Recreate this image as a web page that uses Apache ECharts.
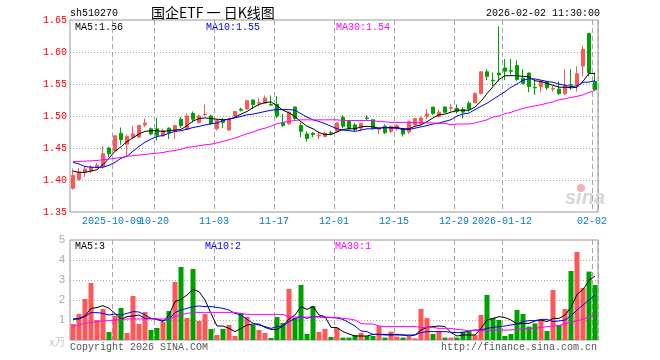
<!DOCTYPE html>
<html><head><meta charset="utf-8">
<script src="https://cdn.jsdelivr.net/npm/echarts@6/dist/echarts.min.js"></script>
<style>html,body{margin:0;padding:0;background:#fff}#c{width:660px;height:360px}</style>
</head><body><div id="c"></div>
<script>
const dates = [
'2025-09-22','2025-09-23','2025-09-24','2025-09-25','2025-09-26','2025-09-29','2025-09-30',
'2025-10-09','2025-10-10','2025-10-13','2025-10-14','2025-10-15','2025-10-16','2025-10-17',
'2025-10-20','2025-10-21','2025-10-22','2025-10-23','2025-10-24','2025-10-27','2025-10-28','2025-10-29','2025-10-30','2025-10-31',
'2025-11-03','2025-11-04','2025-11-05','2025-11-06','2025-11-07','2025-11-10','2025-11-11','2025-11-12','2025-11-13','2025-11-14',
'2025-11-17','2025-11-18','2025-11-19','2025-11-20','2025-11-21','2025-11-24','2025-11-25','2025-11-26','2025-11-27','2025-11-28',
'2025-12-01','2025-12-02','2025-12-03','2025-12-04','2025-12-05','2025-12-08','2025-12-09','2025-12-10','2025-12-11','2025-12-12',
'2025-12-15','2025-12-16','2025-12-17','2025-12-18','2025-12-19','2025-12-22','2025-12-23','2025-12-24','2025-12-25','2025-12-26',
'2025-12-29','2025-12-30','2025-12-31',
'2026-01-05','2026-01-06','2026-01-07','2026-01-08','2026-01-09','2026-01-12','2026-01-13','2026-01-14','2026-01-15','2026-01-16',
'2026-01-19','2026-01-20','2026-01-21','2026-01-22','2026-01-23','2026-01-26','2026-01-27','2026-01-28','2026-01-29','2026-01-30',
'2026-02-02'];

const openP = [1.387,1.401,1.412,1.414,1.420,1.421,1.450,1.446,1.473,1.456,1.467,1.467,1.486,1.480,1.480,1.469,1.481,1.476,1.495,1.479,
1.504,1.490,1.502,1.500,1.480,1.494,1.478,1.500,1.5105,1.511,1.525,1.520,1.520,1.518,1.518,1.490,1.488,1.514,1.485,1.472,
1.473,1.469,1.468,1.474,1.476,1.498,1.492,1.486,1.481,1.497,1.494,1.479,1.484,1.476,1.480,1.480,1.475,1.486,1.488,1.4995,
1.514,1.499,1.514,1.512,1.512,1.510,1.520,1.521,1.535,1.569,1.556,1.567,1.575,1.571,1.579,1.559,1.567,1.545,1.546,1.553,
1.542,1.542,1.535,1.549,1.549,1.578,1.629,1.554];
const closeP = [1.407,1.412,1.417,1.420,1.423,1.441,1.441,1.469,1.463,1.468,1.472,1.485,1.489,1.472,1.470,1.477,1.474,1.485,1.485,1.500,
1.495,1.500,1.503,1.488,1.493,1.490,1.495,1.507,1.509,1.524,1.518,1.521,1.528,1.517,1.500,1.485,1.506,1.496,1.476,1.465,
1.471,1.470,1.473,1.473,1.489,1.484,1.480,1.479,1.488,1.496,1.481,1.480,1.474,1.484,1.485,1.472,1.491,1.496,1.497,1.503,
1.504,1.506,1.506,1.513,1.507,1.506,1.511,1.535,1.569,1.562,1.555,1.564,1.570,1.570,1.557,1.551,1.546,1.544,1.554,1.544,
1.543,1.535,1.547,1.548,1.566,1.604,1.568,1.541];
const lowP = [1.385,1.399,1.405,1.411,1.418,1.418,1.436,1.445,1.455,1.436,1.465,1.466,1.483,1.470,1.462,1.467,1.464,1.464,1.481,1.478,
1.490,1.488,1.500,1.486,1.477,1.481,1.477,1.498,1.507,1.510,1.511,1.515,1.519,1.516,1.497,1.483,1.486,1.493,1.467,1.460,
1.467,1.464,1.467,1.470,1.475,1.481,1.479,1.476,1.476,1.493,1.479,1.472,1.472,1.473,1.477,1.468,1.472,1.485,1.486,1.495,
1.502,1.498,1.505,1.507,1.504,1.496,1.507,1.520,1.534,1.556,1.546,1.554,1.556,1.565,1.555,1.549,1.537,1.533,1.537,1.541,
1.538,1.533,1.533,1.541,1.538,1.562,1.562,1.540];
const highP = [1.418,1.419,1.421,1.423,1.427,1.453,1.452,1.470,1.482,1.471,1.484,1.486,1.496,1.482,1.497,1.480,1.482,1.486,1.498,1.504,
1.507,1.502,1.518,1.502,1.495,1.497,1.496,1.508,1.513,1.525,1.526,1.528,1.532,1.532,1.531,1.503,1.507,1.515,1.490,1.476,
1.475,1.476,1.476,1.477,1.490,1.501,1.492,1.489,1.489,1.501,1.494,1.482,1.487,1.485,1.487,1.481,1.493,1.497,1.499,1.511,
1.514,1.510,1.515,1.519,1.518,1.514,1.523,1.537,1.570,1.573,1.568,1.640,1.589,1.589,1.587,1.573,1.568,1.558,1.556,1.554,
1.547,1.554,1.573,1.573,1.578,1.610,1.630,1.568];

const ma5 = [1.414,1.412,1.412,1.414,1.416,1.424,1.434,1.445,1.452,1.460,1.466,1.472,1.476,1.477,1.477,1.476,1.477,1.478,1.479,1.485,
1.492,1.496,1.497,1.496,1.495,1.494,1.495,1.498,1.503,1.507,1.513,1.518,1.521,1.522,1.516,1.509,1.505,1.499,1.491,1.484,
1.480,1.474,1.471,1.471,1.475,1.479,1.480,1.480,1.483,1.484,1.483,1.481,1.482,1.482,1.482,1.480,1.480,1.484,1.486,1.491,
1.497,1.502,1.503,1.506,1.509,1.509,1.509,1.514,1.523,1.535,1.546,1.557,1.563,1.563,1.563,1.562,1.561,1.555,1.554,1.551,
1.548,1.545,1.545,1.544,1.545,1.554,1.567,1.566];
const ma10 = [1.4275,1.425,1.421,1.420,1.4196,1.420,1.423,1.4275,1.434,1.437,1.445,1.4524,1.459,1.464,1.468,1.4696,1.473,1.476,1.477,1.4795,
1.482,1.4837,1.486,1.488,1.489,1.493,1.495,1.497,1.4993,1.502,1.503,1.505,1.507,1.509,1.510,1.510,1.510,1.509,1.5035,1.4983,
1.494,1.4915,1.488,1.484,1.480,1.478,1.477,1.476,1.478,1.480,1.480,1.481,1.482,1.481,1.481,1.4786,1.479,1.481,1.483,1.485,
1.4875,1.489,1.4916,1.4942,1.500,1.503,1.5046,1.510,1.515,1.520,1.526,1.532,1.538,1.545,1.550,1.556,1.558,1.558,1.556,1.554,
1.5526,1.550,1.548,1.546,1.547,1.5526,1.553,1.555];
const ma30 = [1.429,1.429,1.4295,1.430,1.4305,1.4316,1.4327,1.434,1.435,1.437,1.438,1.439,1.440,1.441,1.442,1.443,1.445,1.446,1.448,1.451,
1.452,1.4535,1.455,1.456,1.458,1.4603,1.463,1.4655,1.469,1.4722,1.475,1.4785,1.481,1.484,1.488,1.490,1.4915,1.493,1.494,1.494,
1.494,1.494,1.494,1.494,1.494,1.493,1.493,1.493,1.493,1.493,1.493,1.491,1.491,1.490,1.490,1.490,1.490,1.4895,1.4895,1.4895,
1.489,1.4885,1.4885,1.4864,1.4875,1.4875,1.4875,1.489,1.4916,1.494,1.4984,1.500,1.5036,1.5057,1.509,1.512,1.514,1.516,1.5176,1.520,
1.522,1.5255,1.527,1.529,1.5307,1.533,1.537,1.540];

const volume = [0.8,1.3,2.05,2.85,1.0,1.55,0.4,1.2,1.6,0.35,2.2,0.8,1.4,0.5,0.6,0.9,1.45,2.9,3.65,1.1,
3.55,0.95,1.3,0.55,0.25,0.55,0.75,0.2,1.35,1.15,0.75,0.5,0.35,0.1,1.15,0.85,2.55,1.1,2.75,0.3,
1.7,0.4,0.55,0.15,0.6,0.12,0.12,0.25,0.35,0.2,0.2,0.7,0.12,0.42,0.17,0.12,0.17,0.08,1.55,1.1,
0.3,0.42,0.12,0.12,0.12,0.42,0.45,0.25,1.25,2.25,1.1,1.0,0.2,0.3,1.5,1.3,0.67,0.83,1.0,0.45,
2.5,0.75,1.55,3.45,4.4,2.6,3.42,2.75];
const vma5 = [1.05,1.08,1.2,1.58,1.62,1.72,1.58,1.33,1.03,1.17,1.2,1.25,1.08,1.08,1.03,0.92,1.25,1.92,2.03,2.25,
2.53,2.42,2.0,1.33,0.7,0.7,0.58,0.42,0.58,0.75,0.8,0.8,0.63,0.53,0.53,0.7,1.05,1.25,1.67,1.53,
1.67,1.25,1.17,0.63,0.62,0.42,0.3,0.2,0.2,0.2,0.28,0.28,0.28,0.28,0.28,0.25,0.2,0.25,0.5,0.63,
0.67,0.7,0.67,0.37,0.2,0.25,0.25,0.25,0.58,1.0,1.08,1.17,1.12,1.0,0.8,0.83,0.83,0.95,1.0,0.92,
1.08,1.08,1.25,1.63,2.28,2.53,2.97,3.2];
const vma10 = [1.03,1.05,1.17,1.37,1.37,1.33,1.25,1.3,1.25,1.33,1.42,1.4,1.25,1.08,1.05,0.97,1.03,1.37,1.5,1.58,
1.67,1.7,1.67,1.67,1.63,1.58,1.5,1.33,1.25,1.03,0.83,0.75,0.67,0.58,0.67,0.7,0.92,1.08,1.17,1.08,
1.17,1.17,1.13,1.12,1.1,1.03,0.87,0.7,0.45,0.42,0.28,0.28,0.25,0.25,0.25,0.25,0.25,0.25,0.37,0.42,
0.42,0.42,0.42,0.38,0.37,0.37,0.47,0.5,0.5,0.58,0.63,0.67,0.7,0.75,0.8,0.92,0.97,0.97,1.03,1.03,
0.92,0.95,1.0,1.2,1.5,1.75,2.0,2.25];
const vma30 = [0.67,0.75,0.83,0.88,0.92,0.95,0.97,1.0,1.03,1.05,1.05,1.05,1.05,1.05,1.05,1.05,1.05,1.17,1.25,1.33,
1.38,1.38,1.38,1.38,1.38,1.38,1.38,1.38,1.33,1.28,1.28,1.28,1.28,1.28,1.28,1.28,1.13,1.15,1.15,1.15,
1.15,1.15,1.15,1.13,1.13,1.08,1.05,1.0,0.83,0.8,0.8,0.7,0.67,0.67,0.67,0.67,0.67,0.67,0.63,0.63,
0.63,0.58,0.58,0.58,0.53,0.5,0.47,0.47,0.45,0.47,0.5,0.5,0.5,0.5,0.53,0.55,0.58,0.58,0.63,0.67,
0.7,0.72,0.83,0.87,0.97,1.03,1.17,1.25];

const tickDates = ['2025-10-09','2025-10-20','2025-11-03','2025-11-17','2025-12-01','2025-12-15','2025-12-29','2026-01-12','2026-02-02'];
const tickLabels = ['2025-10-09','10-20','11-03','11-17','12-01','12-15','12-29','2026-01-12','02-02'];
const priceAxis = {min: 1.35, max: 1.65, step: 0.05};
const volAxis = {min: 0, max: 5, step: 1};

const UP = '#ff5757', DOWN = '#00a000';
const GRID_GRAY = '#a8a8a8';
const MONO = '"Liberation Mono", "DejaVu Sans Mono", monospace';
const tickIdx = tickDates.map(d => dates.indexOf(d));
const isTick = i => tickIdx.indexOf(i) >= 0;
// split the labels over two label axes so that the overlapping pair at the left is not dropped
const isTickA = i => { const k = tickIdx.indexOf(i); return k >= 0 && k % 2 === 0; };
const isTickB = i => { const k = tickIdx.indexOf(i); return k >= 0 && k % 2 === 1; };

const chart = echarts.init(document.getElementById('c'), null, {renderer: 'canvas'});

const xCommon = {
  type: 'category', data: dates, boundaryGap: true,
  axisLine: {show: false}, axisTick: {show: false},
  splitLine: {show: true, interval: (i) => isTick(i), lineStyle: {color: GRID_GRAY, type: [5, 3], width: 1}}
};
const xLabelStyle = (fn) => ({show: true, interval: fn, hideOverlap: false,
  formatter: (v) => { const k = tickDates.indexOf(v); return k >= 0 ? tickLabels[k] : ''; },
  color: '#0a78c8', fontFamily: MONO, fontSize: 10, margin: 4, padding: [0, 6, 0, 0]});

const labelText = (x, y, text, color, align) => ({
  type: 'text', x: x, y: y, silent: true,
  style: {text: text, fill: color, font: '10px ' + MONO, verticalAlign: 'middle', align: align || 'left'}
});

chart.setOption({
  animation: false,
  backgroundColor: '#fff',
  grid: [
    {left: 70, top: 20, width: 528, height: 192, show: true, borderColor: '#999', borderWidth: 1, backgroundColor: 'transparent', outerBoundsMode: 'none'},
    {left: 70, top: 240, width: 528, height: 100, show: true, borderColor: '#999', borderWidth: 1, backgroundColor: 'transparent', outerBoundsMode: 'none'}
  ],
  xAxis: [
    Object.assign({}, xCommon, {gridIndex: 0, position: 'bottom', axisLabel: xLabelStyle(isTickA)}),
    Object.assign({}, xCommon, {gridIndex: 1, axisLabel: {show: false}}),
    Object.assign({}, xCommon, {gridIndex: 0, position: 'bottom', offset: 0, splitLine: {show: false}, axisLabel: xLabelStyle(isTickB)})
  ],
  yAxis: [
    {type: 'value', gridIndex: 0, min: priceAxis.min, max: priceAxis.max, interval: priceAxis.step, scale: true,
      axisLine: {show: false}, axisTick: {show: false},
      axisLabel: {color: '#ff0000', fontFamily: MONO, fontSize: 10, margin: 3, formatter: v => v.toFixed(2), showMinLabel: true, showMaxLabel: true},
      splitLine: {show: true, showMinLine: false, showMaxLine: false, lineStyle: {color: GRID_GRAY, type: [1, 2], width: 1}}},
    {type: 'value', gridIndex: 1, min: volAxis.min, max: volAxis.max, interval: volAxis.step,
      axisLine: {show: false}, axisTick: {show: false},
      axisLabel: {color: '#aaaaaa', fontFamily: '"Liberation Sans", Arial, sans-serif', fontSize: 11, margin: 5,
        formatter: v => v === 0 ? '' : String(v)},
      splitLine: {show: true, showMinLine: false, showMaxLine: false, lineStyle: {color: GRID_GRAY, type: [1, 2], width: 1}}}
  ],
  series: [
    {type: 'candlestick', xAxisIndex: 0, yAxisIndex: 0, barWidth: 4, z: 3,
      data: dates.map((d, i) => [openP[i], closeP[i], lowP[i], highP[i]]),
      itemStyle: {color: UP, color0: DOWN, borderColor: UP, borderColor0: DOWN, borderWidth: 1}},
    {type: 'line', xAxisIndex: 0, yAxisIndex: 0, data: ma5, symbol: 'none', lineStyle: {color: '#000', width: 1}, z: 4},
    {type: 'line', xAxisIndex: 0, yAxisIndex: 0, data: ma10, symbol: 'none', lineStyle: {color: '#0000ff', width: 1}, z: 4},
    {type: 'line', xAxisIndex: 0, yAxisIndex: 0, data: ma30, symbol: 'none', lineStyle: {color: '#ff00ff', width: 1}, z: 4},
    {type: 'bar', xAxisIndex: 1, yAxisIndex: 1, barWidth: 5, z: 3,
      data: volume.map((v, i) => ({value: v, itemStyle: {color: closeP[i] >= openP[i] ? UP : DOWN}}))},
    {type: 'line', xAxisIndex: 1, yAxisIndex: 1, data: vma5, symbol: 'none', lineStyle: {color: '#000', width: 1}, z: 4},
    {type: 'line', xAxisIndex: 1, yAxisIndex: 1, data: vma10, symbol: 'none', lineStyle: {color: '#0000ff', width: 1}, z: 4},
    {type: 'line', xAxisIndex: 1, yAxisIndex: 1, data: vma30, symbol: 'none', lineStyle: {color: '#ff00ff', width: 1}, z: 4}
  ],
  graphic: [
    labelText(70, 13, 'sh510270', '#000'),
    {type: 'text', x: 151, y: 13, silent: true, style: {text: '国企ETF 一 日K线图', fill: '#000', font: '14px "Noto Sans CJK SC"', verticalAlign: 'middle', align: 'left'}},
    labelText(600, 13, '2026-02-02 11:30:00', '#000', 'right'),
    labelText(75, 27, 'MA5:1.56', '#000'),
    labelText(206, 27, 'MA10:1.55', '#0000ff'),
    labelText(336, 27, 'MA30:1.54', '#ff00ff'),
    labelText(75, 246, 'MA5:3', '#000'),
    labelText(205, 246, 'MA10:2', '#0000ff'),
    labelText(335, 246, 'MA30:1', '#ff00ff'),
    {type: 'text', x: 49, y: 342, silent: true, style: {text: 'x万', fill: '#c8c8c8', font: '11px "Noto Sans CJK SC"', verticalAlign: 'middle', align: 'left'}},
    labelText(70, 347, 'Copyright 2026 SINA.COM', '#555'),
    labelText(597, 347, 'http://finance.sina.com.cn', '#555', 'right'),
    {type: 'text', x: 565, y: 198, silent: true, z: 0, style: {text: 'sina', fill: '#d6d6d6', font: 'italic bold 20px "Liberation Sans"', verticalAlign: 'middle', align: 'left'}},
    {type: 'circle', silent: true, z: 0, shape: {cx: 581, cy: 188, r: 4}, style: {fill: '#f3b3b3'}}
  ]
});
</script></body></html>
